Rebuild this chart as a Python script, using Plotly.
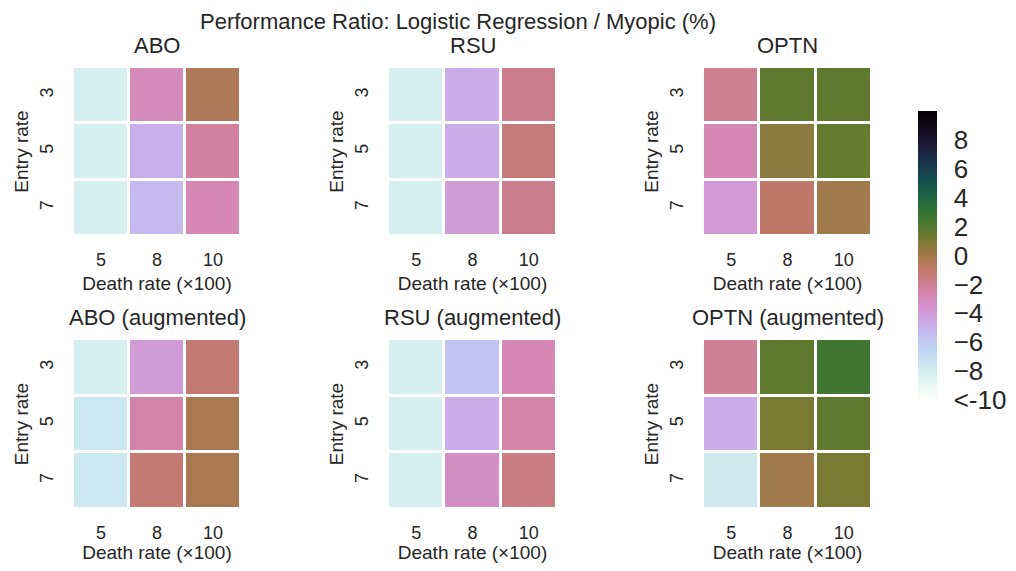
import numpy as np
import plotly.graph_objects as go

# data: rows = entry rate (3, 5, 7), cols = death rate x100 (5, 8, 10)
death_rates = ["5", "8", "10"]
entry_rates = ["3", "5", "7"]

abo = [[-8.2, -3.0, -0.5],
       [-8.2, -4.8, -2.3],
       [-8.2, -5.3, -2.8]]
rsu = [[-8.2, -4.7, -1.8],
       [-8.2, -4.7, -1.4],
       [-8.2, -3.9, -1.8]]
optn = [[-2.0, 1.7, 1.7],
        [-2.8, 0.5, 1.6],
        [-3.8, -1.0, 0.0]]
abo_aug = [[-8.2, -3.9, -1.2],
           [-7.6, -2.5, -0.3],
           [-7.6, -1.2, -0.3]]
rsu_aug = [[-8.2, -5.8, -2.8],
           [-8.2, -4.7, -2.5],
           [-8.2, -3.3, -1.6]]
optn_aug = [[-2.1, 1.7, 2.6],
            [-4.7, 1.0, 1.7],
            [-7.8, 0.0, 1.0]]

panels = [("ABO", abo), ("RSU", rsu), ("OPTN", optn),
          ("ABO (augmented)", abo_aug), ("RSU (augmented)", rsu_aug),
          ("OPTN (augmented)", optn_aug)]

cbar_vals = [-10, -8, -6, -4, -2, 0, 2, 4, 6, 8]
cbar_text = ["<-10", "\u22128", "\u22126", "\u22124", "\u22122", "0", "2", "4", "6", "8"]


# matplotlib-style cubehelix, reversed (white at low end, black at high end)
def cubehelix_r(n=32, s=0.5, r=-1.5, h=1.0):
    scale = []
    for i in range(n):
        t = i / (n - 1)
        x = 1 - t
        a = h * x * (1 - x) / 2
        phi = 2 * np.pi * (s / 3 + r * x)
        R = x + a * (-0.14861 * np.cos(phi) + 1.78277 * np.sin(phi))
        G = x + a * (-0.29227 * np.cos(phi) - 0.90649 * np.sin(phi))
        B = x + a * (1.97294 * np.cos(phi))
        rgb = [int(round(255 * min(max(c, 0), 1))) for c in (R, G, B)]
        scale.append([t, f"rgb({rgb[0]},{rgb[1]},{rgb[2]})"])
    return scale


# page body has an 8px margin, so the figure is drawn 8px in from the window edge
OFF = 8
W, H = 1000, 555
col_px = [(73, 241), (388, 557), (703, 872)]
row_px = [(67, 236), (339, 509)]
txt = "#262626"
font = "Liberation Sans, Arial, sans-serif"


def fx(px):
    return (px - OFF) / W


def fy(py):
    return 1 - (py - OFF) / H


fig = go.Figure()
layout = {}
annotations = []

for i, (name, z) in enumerate(panels):
    r, c = divmod(i, 3)
    k = "" if i == 0 else str(i + 1)
    fig.add_trace(go.Heatmap(
        z=z, x=death_rates, y=entry_rates,
        coloraxis="coloraxis", xgap=3, ygap=3,
        xaxis="x" + k, yaxis="y" + k,
    ))
    x0, x1 = col_px[c]
    y0, y1 = row_px[r]
    layout["xaxis" + k] = dict(
        domain=[fx(x0), fx(x1)], anchor="y" + k, type="category",
        showgrid=False, zeroline=False, showline=False, automargin=False,
        ticks="outside", ticklen=7, tickcolor="rgba(0,0,0,0)",
        tickfont=dict(size=18, color=txt),
        title=dict(text="Death rate (\u00d7100)", font=dict(size=19, color=txt), standoff=8),
    )
    layout["yaxis" + k] = dict(
        domain=[fy(y1), fy(y0)], anchor="x" + k, type="category",
        autorange="reversed", showgrid=False, zeroline=False, showline=False,
        automargin=False,
        ticks="outside", ticklen=12, tickcolor="rgba(0,0,0,0)", tickangle=-90,
        tickfont=dict(size=18, color=txt),
        title=dict(text="Entry rate", font=dict(size=19, color=txt), standoff=3),
    )
    annotations.append(dict(
        text=name, x=(fx(x0) + fx(x1)) / 2, y=fy(y0 - 7),
        xref="paper", yref="paper", xanchor="center", yanchor="bottom",
        showarrow=False, font=dict(size=22, color=txt),
    ))

annotations.append(dict(
    text="Performance Ratio: Logistic Regression / Myopic (%)",
    x=fx(458), y=1, xref="paper", yref="paper",
    xanchor="center", yanchor="top", showarrow=False, borderpad=0,
    font=dict(size=22, color=txt),
))

fig.update_layout(
    **layout,
    annotations=annotations,
    width=W, height=H,
    margin=dict(l=0, r=0, t=0, b=0),
    paper_bgcolor="white", plot_bgcolor="white",
    font=dict(family=font, color=txt),
    coloraxis=dict(
        colorscale=cubehelix_r(), cmin=-10, cmax=10,
        colorbar=dict(
            x=fx(918), xanchor="left", y=fy(255.5), yanchor="middle",
            xpad=0, ypad=0,
            len=289 / H, lenmode="fraction", thickness=19, outlinewidth=0,
            tickvals=cbar_vals, ticktext=cbar_text,
            ticks="outside", ticklen=12, tickcolor="rgba(0,0,0,0)",
            tickfont=dict(size=26, color=txt),
        ),
    ),
)

fig.write_html("out.html")
